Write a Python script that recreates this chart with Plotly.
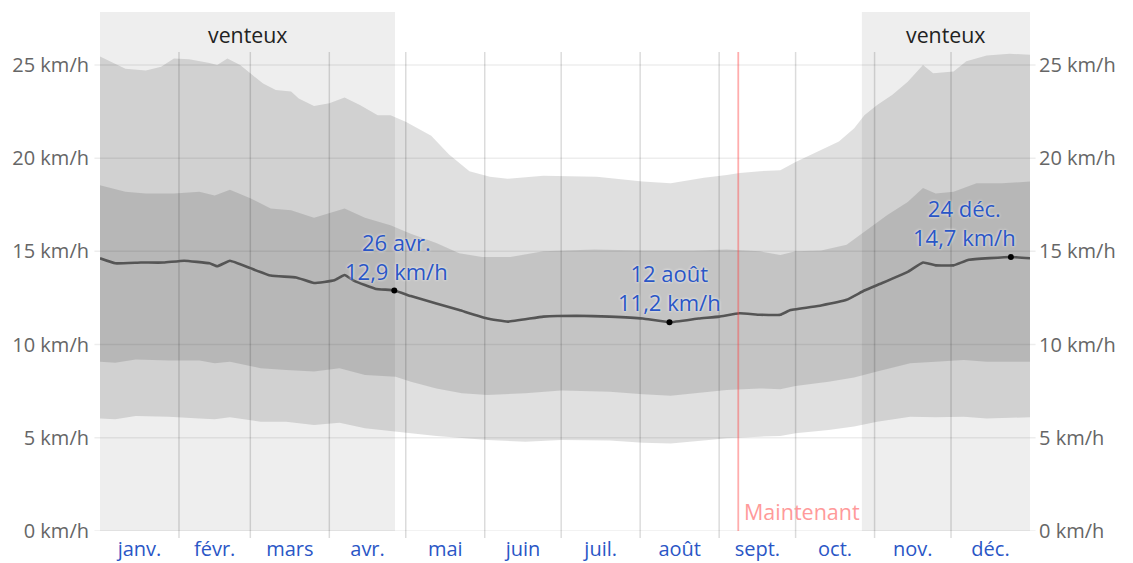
import plotly.graph_objects as go

# ---------------- data (day of year, km/h) ----------------
months = ["janv.", "févr.", "mars", "avr.", "mai", "juin", "juil.", "août", "sept.", "oct.", "nov.", "déc."]
month_starts = [0, 31, 59, 90, 120, 151, 181, 212, 243, 273, 304, 334, 365]

y_ticks = [0, 5, 10, 15, 20, 25]
y_ticktext = ["0 km/h", "5 km/h", "10 km/h", "15 km/h", "20 km/h", "25 km/h"]

median_days = [0, 6, 16, 25, 33, 43, 46, 51, 59, 67, 77, 84, 92, 96, 100, 108, 115.5, 122, 132, 141, 152,
               160, 174, 187, 200, 213, 223.5, 235, 243, 251, 259, 267, 271, 283, 293, 300, 307, 317, 323,
               328, 335, 341, 357.5, 365]
median_vals = [14.63, 14.36, 14.4, 14.4, 14.5, 14.36, 14.2, 14.5, 14.1, 13.7, 13.6, 13.3, 13.45, 13.73, 13.4,
               13.0, 12.9, 12.6, 12.2, 11.85, 11.4, 11.23, 11.5, 11.55, 11.5, 11.4, 11.2, 11.4, 11.5, 11.68,
               11.6, 11.6, 11.85, 12.1, 12.4, 12.9, 13.3, 13.9, 14.4, 14.25, 14.25, 14.55, 14.7, 14.63]

p90_days = [0, 4, 10, 18, 24, 29, 35, 43, 46, 50, 55, 59, 64, 69, 75, 78, 84, 90, 96, 102, 109, 114, 120,
            130, 137, 145, 153, 160, 174, 195, 213, 224, 237, 246, 251, 259, 267, 273, 283, 290, 296, 300,
            305, 311, 317, 323, 327, 335, 340, 348, 357, 365]
p90_vals = [25.45, 25.2, 24.8, 24.7, 24.9, 25.35, 25.3, 25.1, 25.0, 25.35, 25.0, 24.55, 24.0, 23.65, 23.57,
            23.2, 22.8, 22.95, 23.25, 22.85, 22.3, 22.3, 21.95, 21.2, 20.2, 19.3, 19.0, 18.9, 19.05, 19.0,
            18.75, 18.65, 18.95, 19.1, 19.2, 19.3, 19.35, 19.8, 20.45, 20.9, 21.6, 22.3, 22.85, 23.4, 24.1,
            25.0, 24.55, 24.65, 25.2, 25.5, 25.6, 25.55]

p75_days = [0, 4, 10, 18, 29, 39, 45, 51, 59, 67, 75, 84, 90, 96, 104, 114, 122, 132, 141, 150, 161, 174,
            194, 213, 233, 246, 259, 267, 273, 283, 293, 300, 309, 317, 323, 328, 335, 344, 354, 365]
p75_vals = [18.55, 18.4, 18.2, 18.1, 18.1, 18.2, 18.0, 18.3, 17.85, 17.3, 17.2, 16.8, 17.05, 17.3, 16.8,
            16.4, 15.95, 15.45, 14.9, 14.7, 14.7, 15.0, 15.1, 15.05, 15.05, 15.1, 15.0, 14.8, 15.0, 15.05,
            15.35, 16.05, 16.95, 17.65, 18.4, 18.1, 18.2, 18.65, 18.65, 18.75]

p25_days = [0, 6, 14, 27, 39, 45, 51, 63, 73, 84, 94, 104, 116, 122, 132, 142, 152, 167, 181, 200, 213,
            224, 239, 246, 259, 267, 273, 286, 296, 305, 318, 328, 339, 348, 365]
p25_vals = [9.08, 9.03, 9.2, 9.14, 9.14, 9.0, 9.08, 8.73, 8.64, 8.55, 8.73, 8.37, 8.28, 8.0, 7.65, 7.39,
            7.3, 7.39, 7.53, 7.47, 7.33, 7.26, 7.47, 7.56, 7.65, 7.6, 7.78, 8.0, 8.24, 8.55, 9.0, 9.08,
            9.17, 9.08, 9.08]

p10_days = p25_days
p10_vals = [6.04, 5.99, 6.17, 6.13, 6.04, 5.99, 6.1, 5.86, 5.86, 5.69, 5.81, 5.51, 5.33, 5.24, 5.1, 4.97,
            4.88, 4.79, 4.88, 4.85, 4.74, 4.7, 4.88, 4.97, 5.06, 5.1, 5.24, 5.42, 5.6, 5.86, 6.13, 6.1,
            6.13, 6.04, 6.1]

highlight_days = [115.5, 223.5, 357.5]
highlight_vals = [12.9, 11.2, 14.7]
highlight_labels = ["26 avr.<br>12,9 km/h", "12 août<br>11,2 km/h", "24 déc.<br>14,7 km/h"]
highlight_xshift = [2, 0, -46]

windy_periods = [(0, 115.8), (299, 365)]
windy_label = "venteux"
now_day = 250.5
now_label = "Maintenant"

# ---------------- styling ----------------
FONT = "Open Sans"
BLUE = "#2a56c6"
GREY_TXT = "#666666"
PLOT_H = 519  # plot-area height in px

fig = go.Figure()

# outer band 10-90
fig.add_trace(go.Scatter(
    x=p90_days + p10_days[::-1], y=p90_vals + p10_vals[::-1],
    fill="toself", fillcolor="rgba(0,0,0,0.12)", line=dict(width=0),
    mode="lines", hoverinfo="skip", showlegend=False))
# inner band 25-75
fig.add_trace(go.Scatter(
    x=p75_days + p25_days[::-1], y=p75_vals + p25_vals[::-1],
    fill="toself", fillcolor="rgba(0,0,0,0.12)", line=dict(width=0),
    mode="lines", hoverinfo="skip", showlegend=False))
# median
fig.add_trace(go.Scatter(
    x=median_days, y=median_vals, mode="lines",
    line=dict(color="#555555", width=2.6, shape="spline", smoothing=0.3),
    showlegend=False))
# highlight points
fig.add_trace(go.Scatter(
    x=highlight_days, y=highlight_vals, mode="markers",
    marker=dict(color="black", size=6), showlegend=False))
# invisible trace to activate right axis
fig.add_trace(go.Scatter(x=[0], y=[0], yaxis="y2", mode="markers",
                         marker=dict(opacity=0), showlegend=False, hoverinfo="skip"))

shapes = []
annotations = []
for x0, x1 in windy_periods:
    shapes.append(dict(type="rect", xref="x", yref="paper", x0=x0, x1=x1, y0=0, y1=1,
                       fillcolor="#eeeeee", line=dict(width=0), layer="below"))
    annotations.append(dict(x=(x0 + x1) / 2, xref="x", y=(531 - 35) / PLOT_H, yref="paper",
                            text=windy_label, showarrow=False, yanchor="middle",
                            font=dict(family=FONT, size=21.3, color="#222222")))

# horizontal grid lines
for v in y_ticks:
    shapes.append(dict(type="line", xref="paper", yref="y", x0=-0.006, x1=1.006, y0=v, y1=v,
                       line=dict(color="rgba(0,0,0,0.07)", width=1.5), layer="between"))
# month separators
for d in month_starts[1:-1]:
    shapes.append(dict(type="line", xref="x", yref="paper", x0=d, x1=d, y0=-0.0135, y1=0.923,
                       line=dict(color="rgba(0,0,0,0.14)", width=1.5), layer="between"))
# now line
shapes.append(dict(type="line", xref="x", yref="paper", x0=now_day, x1=now_day, y0=0, y1=0.923,
                   line=dict(color="rgba(255,60,60,0.42)", width=1.8), layer="above"))

annotations.append(dict(x=now_day, xref="x", y=(531 - 511) / PLOT_H, yref="paper", text=now_label,
                        xanchor="left", yanchor="middle", xshift=4, showarrow=False,
                        font=dict(family=FONT, size=21.5, color="#ff9a9a")))

for d, v, t, xs in zip(highlight_days, highlight_vals, highlight_labels, highlight_xshift):
    annotations.append(dict(x=d, y=v, xref="x", yref="y", text=t, showarrow=False,
                            xanchor="center", yanchor="bottom", xshift=xs, yshift=3,
                            font=dict(family=FONT, size=22, color=BLUE,
                                      shadow="0px 0px 3px white")))

# page body has an 8px default margin: figure sits at (8, 8)
fig.update_layout(
    width=1125, height=555, autosize=False,
    margin=dict(l=92, r=103, t=4, b=32, pad=0, autoexpand=False),
    paper_bgcolor="white", plot_bgcolor="rgba(0,0,0,0)",
    font=dict(family=FONT, size=20, color=GREY_TXT),
    shapes=shapes, annotations=annotations,
    xaxis=dict(range=[0, 365], showgrid=False, zeroline=False, showline=False,
               tickvals=[(month_starts[i] + month_starts[i + 1]) / 2 for i in range(12)],
               ticktext=months, ticks="", tickfont=dict(family=FONT, size=20, color=BLUE),
               ticklabelstandoff=4, fixedrange=True, automargin=False),
    yaxis=dict(range=[0, 27.84], showgrid=False, zeroline=False, showline=False,
               tickvals=y_ticks, ticktext=y_ticktext, ticks="", automargin=False,
               tickfont=dict(family=FONT, size=20, color=GREY_TXT), ticklabelstandoff=10),
    yaxis2=dict(range=[0, 27.84], overlaying="y", side="right", showgrid=False, zeroline=False,
                showline=False, tickvals=y_ticks, ticktext=y_ticktext, ticks="", automargin=False,
                tickfont=dict(family=FONT, size=20, color=GREY_TXT), ticklabelstandoff=8),
    showlegend=False,
)

fig.write_html("out.html")
